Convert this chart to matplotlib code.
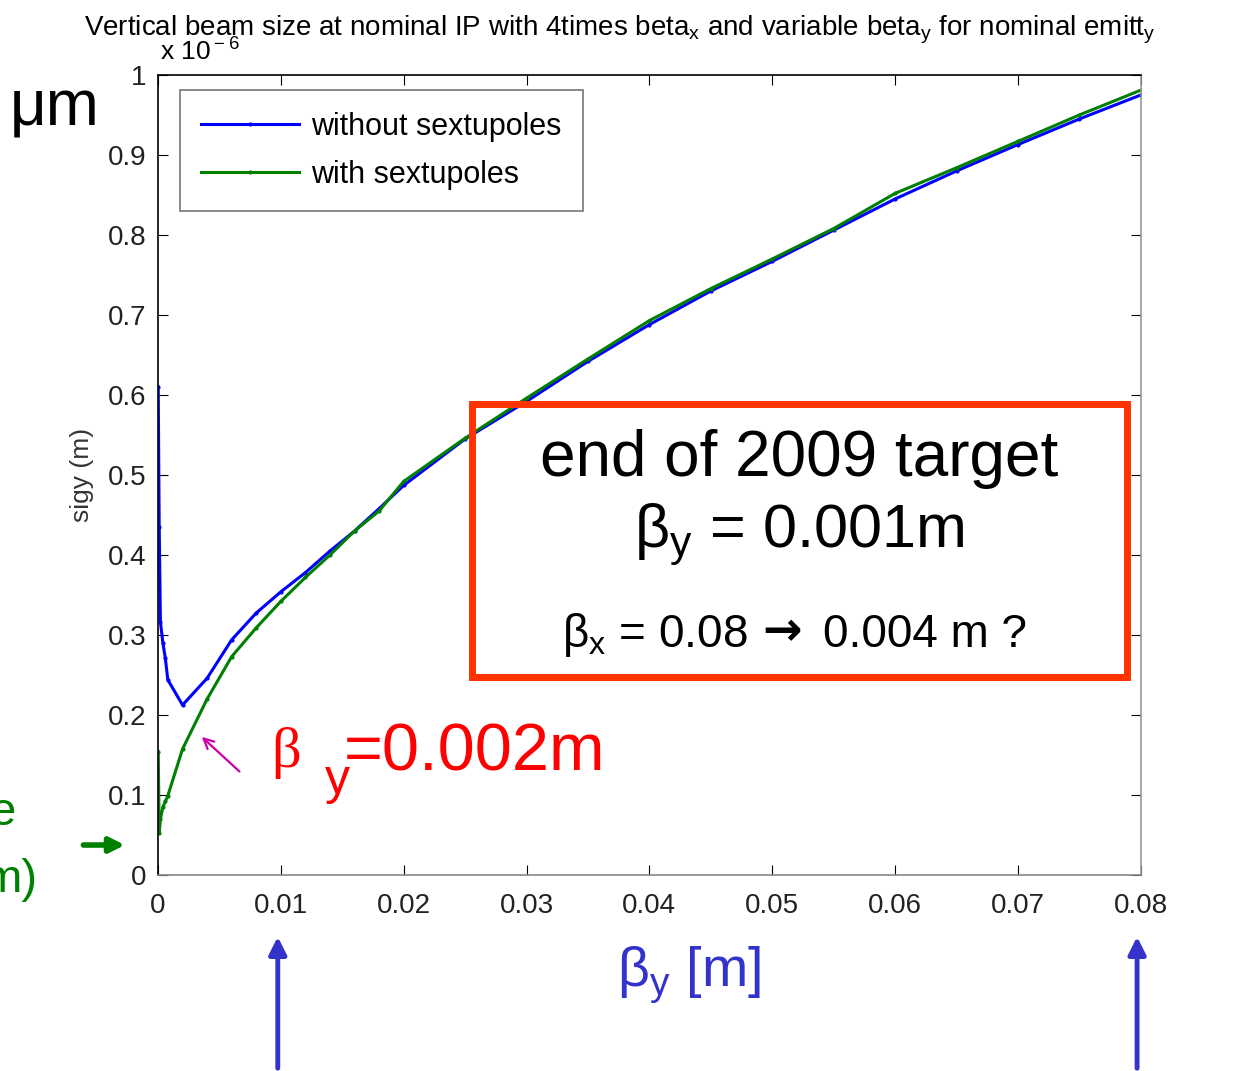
import matplotlib
matplotlib.use('Agg')
import matplotlib.pyplot as plt
from matplotlib.patches import Rectangle, FancyArrowPatch

# beta_y values [m]
beta_y = [0.00002, 0.0001, 0.0002, 0.0004, 0.0006, 0.0008, 0.002, 0.004, 0.006,
          0.008, 0.01, 0.012, 0.014, 0.016, 0.018, 0.02, 0.025, 0.03, 0.035,
          0.04, 0.045, 0.05, 0.055, 0.06, 0.065, 0.07, 0.075, 0.08]

# sigy (x 1e-6 m)
sig_without = [0.61, 0.435, 0.316, 0.29, 0.271, 0.244, 0.2125, 0.246, 0.294,
               0.3275, 0.354, 0.378, 0.405, 0.43, 0.458, 0.487, 0.545, 0.592,
               0.642, 0.688, 0.73, 0.767, 0.806, 0.845, 0.88, 0.913, 0.945, 0.975]
sig_with = [0.154, 0.053, 0.07, 0.085, 0.092, 0.099, 0.1575, 0.22, 0.273,
            0.309, 0.342, 0.372, 0.40, 0.43, 0.455, 0.492, 0.546, 0.596,
            0.645, 0.693, 0.733, 0.77, 0.808, 0.852, 0.884, 0.917, 0.95, 0.981]

title = (r'Vertical beam size at nominal IP with 4times beta$_{\rm x}$ '
         r'and variable beta$_{\rm y}$ for nominal emitt$_{\rm y}$')

plt.rcParams['font.family'] = ['Liberation Sans', 'DejaVu Sans']
plt.rcParams['mathtext.fontset'] = 'custom'
plt.rcParams['mathtext.rm'] = 'Liberation Sans'

fig = plt.figure(figsize=(12.4, 10.71), dpi=100)
ax = fig.add_axes([0.1274, 0.183, 0.7926, 0.747])

ax.plot(beta_y, sig_without, color='#0000ff', lw=2.2, marker='.', ms=4,
        label='without sextupoles')
ax.plot(beta_y, sig_with, color='#008000', lw=2.2, marker='.', ms=4,
        label='with sextupoles')

ax.set_xlim(0, 0.08)
ax.set_ylim(0, 1)
ax.set_xticks([0, 0.01, 0.02, 0.03, 0.04, 0.05, 0.06, 0.07, 0.08])
ax.set_xticklabels(['0', '0.01', '0.02', '0.03', '0.04', '0.05', '0.06', '0.07', '0.08'])
ax.set_yticks([0, 0.1, 0.2, 0.3, 0.4, 0.5, 0.6, 0.7, 0.8, 0.9, 1])
ax.set_yticklabels(['0', '0.1', '0.2', '0.3', '0.4', '0.5', '0.6', '0.7', '0.8', '0.9', '1'])
ax.tick_params(direction='in', length=7, labelsize=20, labelcolor='#222222',
               top=True, right=True, pad=8)
ax.tick_params(axis='x', pad=13)
ax.spines['right'].set_color('#999999')
ax.spines['bottom'].set_color('#888888')
for s in ax.spines.values():
    s.set_linewidth(1.2)

ax.set_ylabel('sigy (m)', fontsize=19, color='#333333', labelpad=10)

leg = ax.legend(loc='upper left', fontsize=22, frameon=True, fancybox=False,
                edgecolor='#555555', handlelength=3.2, handletextpad=0.4,
                borderpad=0.7, labelspacing=0.6, borderaxespad=0,
                bbox_to_anchor=(0.0224, 0.981))
leg.get_frame().set_linewidth(1.2)

fig.text(0.5, 0.972, title, ha='center', va='center', fontsize=20)
fig.text(0.129, 0.953, r'x 10$^{\rm -6}$', ha='left', va='center', fontsize=19)
fig.text(0.008, 0.899, 'μm', ha='left', va='center', fontsize=46)

# red target box
ax.add_patch(Rectangle((0.02555, 0.247), 0.0533, 0.342, transform=ax.transData,
                       fill=False, edgecolor='#ff3300', lw=5, zorder=5))
ax.text(0.05218, 0.52, 'end of 2009 target', ha='center', va='center',
        fontsize=46, zorder=6)
ax.text(0.05218, 0.425, r'β$_{\rm y}$ = 0.001m', ha='center', va='center',
        fontsize=44, zorder=6)
ax.text(0.04802, 0.30, r'β$_{\rm x}$ = 0.08', ha='right', va='center',
        fontsize=33, zorder=6)
ax.text(0.05079, 0.303, '→', ha='center', va='center', fontsize=34,
        fontweight='bold', family='DejaVu Sans', zorder=6)
ax.text(0.05412, 0.30, '0.004 m ?', ha='left', va='center', fontsize=33, zorder=6)

# beta_y = 0.002m annotation
ax.text(0.0092, 0.152, 'β', ha='left', va='center', fontsize=42,
        color='#ff0000', family='Liberation Serif')
ax.text(0.01355, 0.118, 'y', ha='left', va='center', fontsize=36,
        color='#ff0000')
ax.text(0.0151, 0.152, '=0.002m', ha='left', va='center', fontsize=48,
        color='#ff0000')
ax.add_patch(FancyArrowPatch((0.0068, 0.127), (0.0034, 0.175), arrowstyle='->',
                             mutation_scale=18, color='#cc00aa', lw=1.6))

# green partial text at left edge
fig.text(-0.008, 0.241, 'e', ha='left', va='center', fontsize=34, color='#008000')
fig.text(-0.014, 0.178, 'm)', ha='left', va='center', fontsize=34, color='#008000')
fig.add_artist(FancyArrowPatch((0.065, 0.211), (0.103, 0.211), arrowstyle='-|>',
                               mutation_scale=22, color='#008000', lw=4,
                               transform=fig.transFigure))

# x label and blue arrows
fig.text(0.556, 0.09, r'β$_{\rm y}$ [m]', ha='center', va='center', fontsize=40,
         color='#3333cc')
for xf in [0.224, 0.917]:
    fig.add_artist(FancyArrowPatch((xf, 0.0), (xf, 0.128), arrowstyle='-|>',
                                   mutation_scale=26, color='#3333cc', lw=3.5,
                                   transform=fig.transFigure))

fig.savefig('out.png', dpi=100)
